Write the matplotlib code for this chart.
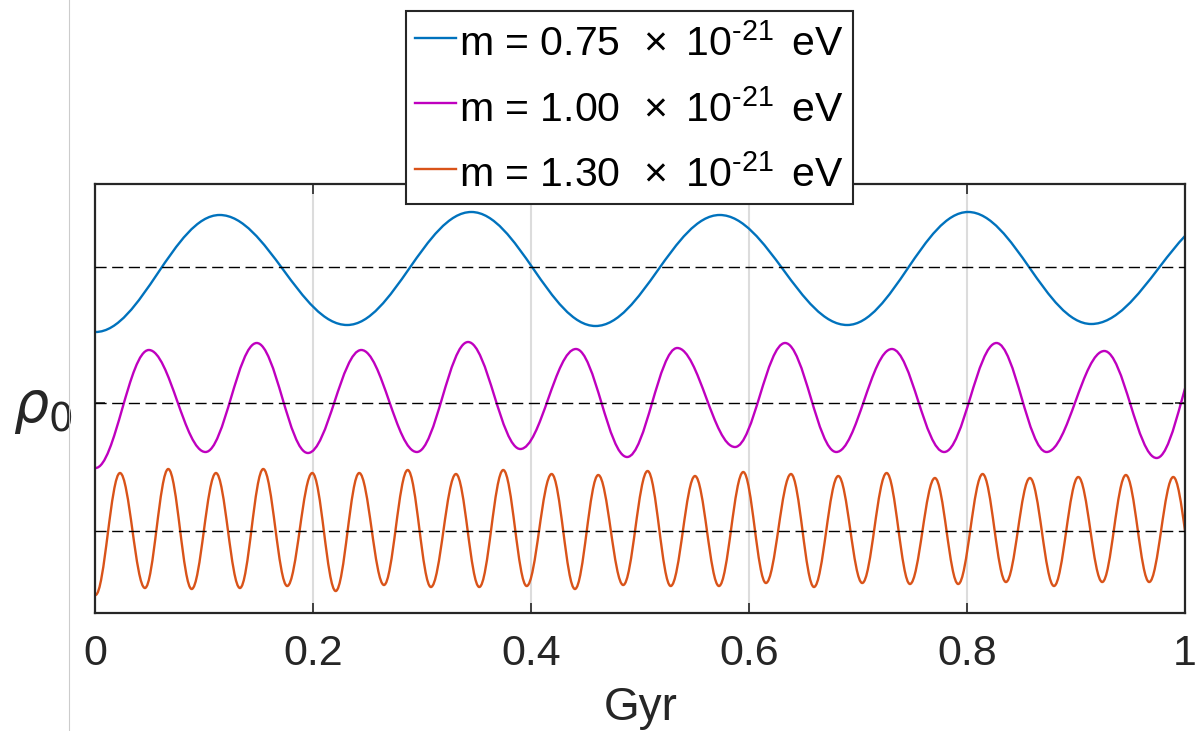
import matplotlib
matplotlib.use("Agg")
import matplotlib.pyplot as plt
from matplotlib.path import Path
from matplotlib.patches import PathPatch
from matplotlib.lines import Line2D

plt.rcParams['font.family'] = ['Liberation Sans', 'DejaVu Sans']
plt.rcParams['mathtext.fontset'] = 'custom'
plt.rcParams['mathtext.rm'] = 'Liberation Sans'
plt.rcParams['mathtext.it'] = 'Liberation Sans:italic'
plt.rcParams['mathtext.bf'] = 'Liberation Sans:bold'

# --- extrema (time in Gyr, density offset, arbitrary units; rho0 = 0) ---
t_blue = [0.000, 0.114, 0.231, 0.345, 0.459, 0.573, 0.690, 0.801, 0.914, 1.038]
y_blue = [0.71, 1.88, 0.78, 1.91, 0.77, 1.88, 0.78, 1.91, 0.79, 1.91]

t_mag = [0.000, 0.049, 0.101, 0.148, 0.195, 0.244, 0.295, 0.342, 0.390, 0.441,
         0.488, 0.534, 0.587, 0.633, 0.680, 0.731, 0.779, 0.827, 0.873, 0.926,
         0.974, 1.020]
y_mag = [-0.65, 0.53, -0.49, 0.60, -0.50, 0.53, -0.49, 0.61, -0.46, 0.54,
         -0.54, 0.55, -0.44, 0.60, -0.49, 0.54, -0.49, 0.60, -0.49, 0.52,
         -0.55, 0.60]

t_org = [0.000, 0.0225, 0.0454, 0.0668, 0.0883, 0.1106, 0.1326, 0.1540, 0.1760,
         0.1990, 0.2205, 0.2421, 0.2648, 0.2866, 0.3079, 0.3309, 0.3523, 0.3743,
         0.3958, 0.4187, 0.4401, 0.4615, 0.4844, 0.5068, 0.5280, 0.5503, 0.5723,
         0.5946, 0.6154, 0.6384, 0.6595, 0.6818, 0.7038, 0.7262, 0.7476, 0.7705,
         0.7919, 0.8143, 0.8357, 0.8577, 0.8798, 0.9021, 0.9241, 0.9458, 0.9672,
         0.9893, 1.0110]
y_org = [-1.92, -0.70, -1.85, -0.66, -1.86, -0.70, -1.85, -0.66, -1.83,
         -0.70, -1.88, -0.70, -1.82, -0.67, -1.84, -0.71, -1.84, -0.67,
         -1.83, -0.71, -1.86, -0.72, -1.82, -0.68, -1.83, -0.73, -1.83,
         -0.69, -1.80, -0.71, -1.84, -0.73, -1.80, -0.70, -1.81, -0.75,
         -1.81, -0.71, -1.79, -0.75, -1.83, -0.74, -1.79, -0.72, -1.79,
         -0.74, -1.83]

mean_levels = [1.36, 0.0, -1.28]
masses = ['0.75', '1.00', '1.30']
labels = [r'm = %s $\,\times$ 10$^{\text{-21}}$ $\,$eV' % m for m in masses]
colors = ['#0072BD', '#BF00BF', '#D95319']


def wave_path(t, y, k=0.364):
    # smooth path through the extrema, flat tangent at each one
    verts = [(t[0], y[0])]
    codes = [Path.MOVETO]
    for i in range(len(t) - 1):
        dt = t[i + 1] - t[i]
        verts += [(t[i] + k * dt, y[i]), (t[i + 1] - k * dt, y[i + 1]), (t[i + 1], y[i + 1])]
        codes += [Path.CURVE4] * 3
    return Path(verts, codes)


fig = plt.figure(figsize=(11.98, 7.31), dpi=100)
ax = fig.add_axes([0.0797, 0.1614, 0.9094, 0.5869])

for t, y, c in zip([t_blue, t_mag, t_org], [y_blue, y_mag, y_org], colors):
    ax.add_patch(PathPatch(wave_path(t, y), fill=False, edgecolor=c, lw=1.7, zorder=2))

for lev in mean_levels:
    ax.axhline(lev, color='k', lw=1.0, ls=(0, (8, 4)), zorder=3)

ax.set_xlim(0, 1)
ax.set_ylim(-2.10, 2.19)
ax.set_xticks([0, 0.2, 0.4, 0.6, 0.8, 1])
ax.set_xticklabels(['0', '0.2', '0.4', '0.6', '0.8', '1'])
ax.set_yticks([0])
ax.set_yticklabels([r'$\rho_0$'])
for lbl in ax.get_yticklabels():
    lbl.set_math_fontfamily('dejavusans')
    lbl.set_fontsize(40)

ax.tick_params(axis='x', direction='in', top=True, length=7, width=1.2,
               labelsize=31, pad=15, colors='#262626')
ax.tick_params(axis='y', direction='in', right=True, length=7, width=1.2,
               pad=17, colors='#262626')
ax.grid(axis='x', color='#DCDCDC', lw=1.5)
ax.set_axisbelow(True)
for s in ax.spines.values():
    s.set_linewidth(1.6)
    s.set_color('#262626')

ax.set_xlabel('Gyr', fontsize=33, color='#262626', labelpad=9)

handles = [Line2D([], [], color=c, lw=1.7) for c in colors]
leg = ax.legend(handles, labels, loc='upper center', bbox_to_anchor=(0.5255, 0.985),
                bbox_transform=fig.transFigure, fontsize=29.5, frameon=True, fancybox=False,
                framealpha=1, edgecolor='#262626', handlelength=1.0, handleheight=1.28,
                handletextpad=0.08, borderpad=0.22, labelspacing=0.52, borderaxespad=0)
leg.get_frame().set_linewidth(1.5)
leg.set_zorder(10)

# thin page rule on the left
fig.add_artist(Line2D([69 / 1198, 69 / 1198], [0, 1], transform=fig.transFigure,
                      color='#CCCCCC', lw=0.8))

fig.savefig('out.png', dpi=100)
